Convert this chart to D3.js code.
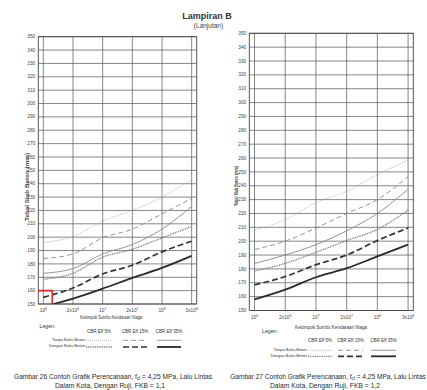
<!DOCTYPE html>
<html>
<head>
<meta charset="utf-8">
<script src="https://cdn.jsdelivr.net/npm/d3@7"></script>
<style>
  html, body { margin: 0; padding: 0; background: #fff; }
  svg { display: block; font-family: "Liberation Sans Narrow", "Liberation Sans", Arial, sans-serif; }
</style>
</head>
<body>
<svg id="chart" width="427" height="390"></svg>
<script>
// traffic categories (equally spaced on the chart)
const categories = ['1e6', '2e6', '1e7', '2e7', '1e8', '3e8'];
const tickBase = ['10', '2x10', '10', '2x10', '10', '3x10'];
const tickExp = ['6', '6', '7', '7', '8', '8'];
const yTicks = d3.range(150, 351, 10);
const cbrLabels = ['CBR Eff 5%', 'CBR Eff 15%', 'CBR Eff 35%'];
const rowLabels = ['Tanpa Bahu Beton', 'Dengan Bahu Beton'];

// Gambar 26 (FKB = 1,1)
const left_tanpa5 = [196, 200.5, 212, 220, 230, 243];
const left_tanpa15 = [184, 187.5, 199.5, 206, 217.5, 229];
const left_tanpa35 = [173, 176.5, 187.5, 194.5, 206, 223];
const left_dengan5 = [168.5, 173, 185, 191, 199.5, 208];
const left_dengan15 = [155, 162, 172.5, 179, 189, 197];
const left_dengan35 = [148, 154, 161.5, 169.5, 177, 186];
const leftMark = { at: 0.3, value: 160 };

// Gambar 27 (FKB = 1,2)
const right_tanpa5 = [208, 215.5, 228, 236, 248, 258.5];
const right_tanpa15 = [194, 200, 209.5, 220, 230, 246.5];
const right_tanpa35 = [184, 190, 197.5, 207.5, 220, 237.5];
const right_dengan5 = [178.5, 184, 192, 200.5, 208.5, 222.5];
const right_dengan15 = [168.5, 174.5, 183, 190, 200.5, 209.5];
const right_dengan35 = [158, 165, 174, 180.5, 189, 197.5];

// line styles: [tanpa 5,15,35, dengan 5,15,35]
const styles = [
  { stroke: '#a8a8a8', width: 0.8, dash: '1,1' },
  { stroke: '#8a8a8a', width: 0.9, dash: '5,3' },
  { stroke: '#8a8a8a', width: 0.9, dash: null },
  { stroke: '#777', width: 1.3, dash: '1,0.8' },
  { stroke: '#333', width: 1.7, dash: '6,3' },
  { stroke: '#2a2a2a', width: 1.8, dash: null },
];

const svg = d3.select('#chart');

svg.append('text')
  .attr('x', 207).attr('y', 18.5)
  .attr('text-anchor', 'middle')
  .attr('font-size', 9).attr('font-weight', 'bold').attr('fill', '#333')
  .text('Lampiran B');
svg.append('text')
  .attr('x', 208.5).attr('y', 27.5)
  .attr('text-anchor', 'middle')
  .attr('font-size', 6.5).attr('fill', '#444')
  .text('(Lanjutan)');

// squeeze a text horizontally so it spans `width` px, centred on cx
function fitText(sel, cx, cy, width) {
  const w = sel.node().getComputedTextLength();
  sel.attr('x', 0).attr('y', 0)
    .attr('transform', `translate(${cx},${cy}) scale(${width / w},1)`);
}

function drawPanel(cfg) {
  const g = svg.append('g');
  const x = d3.scalePoint().domain(categories).range([cfg.x0, cfg.x1]).padding(0.17);
  const y = d3.scaleLinear().domain([150, 350]).range([cfg.yBot, cfg.yTop]);

  // grid
  g.selectAll('.hgrid').data(yTicks).enter().append('line')
    .attr('x1', cfg.x0).attr('x2', cfg.x1)
    .attr('y1', (d) => y(d)).attr('y2', (d) => y(d))
    .attr('stroke', '#555').attr('stroke-width', 0.7);
  g.selectAll('.vgrid').data(categories).enter().append('line')
    .attr('x1', (d) => x(d)).attr('x2', (d) => x(d))
    .attr('y1', cfg.yTop).attr('y2', cfg.yBot)
    .attr('stroke', '#555').attr('stroke-width', 0.7);
  g.append('rect')
    .attr('x', cfg.x0).attr('y', cfg.yTop)
    .attr('width', cfg.x1 - cfg.x0).attr('height', cfg.yBot - cfg.yTop)
    .attr('fill', 'none').attr('stroke', '#444').attr('stroke-width', 0.9);

  // tick labels
  g.selectAll('.ytick').data(yTicks).enter().append('text')
    .attr('x', cfg.x0 - 3).attr('y', (d) => y(d) + 1.6)
    .attr('text-anchor', 'end').attr('font-size', 4.8).attr('fill', '#444')
    .text((d) => d);
  const xt = g.selectAll('.xtick').data(categories).enter().append('text')
    .attr('x', (d) => x(d)).attr('y', cfg.yBot + cfg.xTickDy)
    .attr('text-anchor', 'middle').attr('font-size', 4.8).attr('fill', '#444');
  xt.append('tspan').text((d, i) => tickBase[i]);
  xt.append('tspan').attr('dy', -1.8).attr('font-size', 3.4).text((d, i) => tickExp[i]);

  // axis titles
  g.append('text')
    .attr('transform', `translate(${cfg.yLabelX},${cfg.yLabelY}) rotate(-90)`)
    .attr('text-anchor', 'middle').attr('font-size', 5.5).attr('font-weight', 'bold').attr('fill', '#444')
    .attr('textLength', cfg.yLabelLen).attr('lengthAdjust', 'spacingAndGlyphs')
    .text('Tebal Slab Beton (mm)');
  g.append('text')
    .attr('x', cfg.xLabelX).attr('y', cfg.xLabelY)
    .attr('text-anchor', 'middle').attr('font-size', 5.5).attr('fill', '#333')
    .attr('textLength', cfg.xLabelLen).attr('lengthAdjust', 'spacingAndGlyphs')
    .text('Kelompok Sumbu Kendaraan Niaga');

  // clip
  const clipId = 'clip' + cfg.id;
  svg.append('clipPath').attr('id', clipId).append('rect')
    .attr('x', cfg.x0).attr('y', cfg.yTop)
    .attr('width', cfg.x1 - cfg.x0).attr('height', cfg.yBot - cfg.yTop);

  const line = d3.line()
    .x((d, i) => x(categories[i]))
    .y((d) => y(d))
    .curve(d3.curveMonotoneX);

  g.append('g').attr('clip-path', `url(#${clipId})`)
    .selectAll('path').data(cfg.series).enter().append('path')
    .attr('d', (d) => line(d))
    .attr('fill', 'none')
    .attr('stroke', (d, i) => styles[i].stroke)
    .attr('stroke-width', (d, i) => styles[i].width)
    .attr('stroke-dasharray', (d, i) => styles[i].dash);

  // red reading guide
  if (cfg.mark) {
    const mx = x(categories[0]) + cfg.mark.at * x.step();
    g.append('path')
      .attr('d', `M${cfg.x0},${y(cfg.mark.value)}H${mx}V${y(150)}`)
      .attr('fill', 'none').attr('stroke', '#d42a2a').attr('stroke-width', 1.6);
  }

  // legend
  const lg = cfg.legend;
  g.append('text')
    .attr('x', lg.x).attr('y', lg.y)
    .attr('font-size', 5.2).attr('fill', '#333')
    .text('Legen:');
  g.selectAll('.cbr').data(cbrLabels).enter().append('text')
    .attr('x', (d, i) => (lg.cols[i][0] + lg.cols[i][1]) / 2)
    .attr('y', lg.headY)
    .attr('text-anchor', 'middle').attr('font-size', 4.5).attr('fill', '#333')
    .text((d) => d);
  g.selectAll('.row').data(rowLabels).enter().append('text')
    .attr('x', lg.rowX).attr('y', (d, i) => lg.rowY[i] + 1.4)
    .attr('text-anchor', 'end').attr('font-size', 4).attr('fill', '#333')
    .text((d) => d);
  styles.forEach((s, k) => {
    const r = Math.floor(k / 3), c = k % 3;
    g.append('line')
      .attr('x1', lg.cols[c][0]).attr('x2', lg.cols[c][1])
      .attr('y1', lg.rowY[r] + 1).attr('y2', lg.rowY[r] + 1)
      .attr('stroke', s.stroke).attr('stroke-width', s.width)
      .attr('stroke-dasharray', s.dash);
  });

  // caption
  const cap = g.append('text')
    .attr('text-anchor', 'middle').attr('font-size', 7.2).attr('fill', '#2a2a2a');
  cap.append('tspan').text(`Gambar ${cfg.fig}  Contoh Grafik Perencanaan, f`);
  cap.append('tspan').attr('font-size', 4.6).attr('dy', 1.2).text('cf');
  cap.append('tspan').attr('dy', -1.2).text(' = 4,25 MPa, Lalu Lintas');
  fitText(cap, cfg.capX, cfg.capY, cfg.capLen);
  const cap2 = g.append('text')
    .attr('text-anchor', 'middle').attr('font-size', 7.2).attr('fill', '#2a2a2a')
    .text(`Dalam Kota, Dengan Ruji, FKB = ${cfg.fkb}`);
  fitText(cap2, cfg.capX - 3, cfg.capY + 8.8, cfg.cap2Len);
}

drawPanel({
  id: 'L', fig: 26, fkb: '1,1',
  x0: 38.3, x1: 196.7, yTop: 36.7, yBot: 304,
  xTickDy: 8, yLabelX: 28.5, yLabelY: 187, yLabelLen: 68,
  xLabelX: 111, xLabelY: 319, xLabelLen: 62,
  series: [left_tanpa5, left_tanpa15, left_tanpa35, left_dengan5, left_dengan15, left_dengan35],
  mark: leftMark,
  legend: {
    x: 39.5, y: 327.5, headY: 332.7,
    cols: [[86, 112], [123, 147], [157, 181]],
    rowX: 85, rowY: [339.3, 346]
  },
  capX: 113, capY: 379, capLen: 198, cap2Len: 110
});

drawPanel({
  id: 'R', fig: 27, fkb: '1,2',
  x0: 249.3, x1: 413.3, yTop: 33.3, yBot: 310.5,
  xTickDy: 8.5, yLabelX: 237.5, yLabelY: 186, yLabelLen: 40,
  xLabelX: 331, xLabelY: 328.5, xLabelLen: 72,
  series: [right_tanpa5, right_tanpa15, right_tanpa35, right_dengan5, right_dengan15, right_dengan35],
  mark: null,
  legend: {
    x: 262, y: 332.5, headY: 341.7,
    cols: [[308, 332], [338, 363], [371, 396]],
    rowX: 306.7, rowY: [349.3, 355.3]
  },
  capX: 328, capY: 379, capLen: 196, cap2Len: 110
});
</script>
</body>
</html>
